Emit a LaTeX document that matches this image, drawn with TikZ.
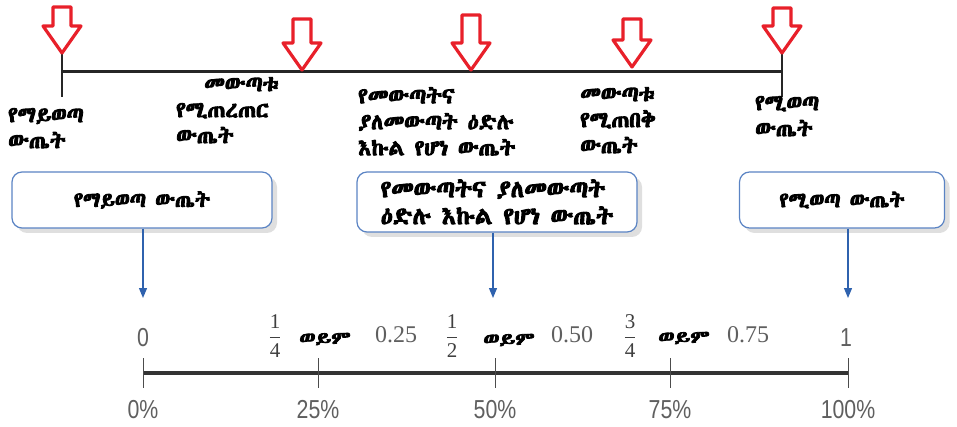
\documentclass[tikz,border=0pt]{standalone}
\usepackage{amsmath}
\usepackage{fontspec}
\usepackage{tikz}
\usetikzlibrary{arrows.meta, shadows}
\setmainfont{Liberation Serif}
\newfontfamily\pctfont[FakeStretch=0.82]{Liberation Sans}
\IfFontExistsTF{Abyssinica SIL}
  {\newfontfamily\ethfont[FakeBold=4]{Abyssinica SIL}
   \newfontfamily\ethwide[FakeBold=4.5, FakeStretch=1.35]{Abyssinica SIL}}
  {\IfFontExistsTF{FreeSerif}
    {\newfontfamily\ethfont[FakeBold=4]{FreeSerif}
     \newfontfamily\ethwide[FakeBold=4.5, FakeStretch=1.35]{FreeSerif}}
    {\newfontfamily\ethfont{DejaVu Sans}
     \newfontfamily\ethwide{DejaVu Sans}}}
\definecolor{arrred}{HTML}{E8202A}
\definecolor{boxblue}{HTML}{5B84C4}
\definecolor{pointblue}{HTML}{2F62AE}
\definecolor{greytxt}{HTML}{5F5F5F}
\newcommand{\partfrac}[2]{$\dfrac{\text{#1}}{\text{#2}}$}

\begin{document}
\begin{tikzpicture}[x=1pt, y=-1pt]
  \tikzset{
    hollow/.style={draw=arrred, line width=3.2pt, fill=white, line join=round},
    pics/drop/.style={code={\draw[hollow] (-9,0) -- (9,0) -- (9,{#1-27}) -- (19,{#1-27}) -- (0,#1) -- (-19,{#1-27}) -- (-9,{#1-27}) -- cycle;}},
    eth/.style={font=\ethfont\fontsize{22}{26}\selectfont, align=left, anchor=north west, inner sep=0pt},
    outbox/.style={draw=boxblue, line width=1.2pt, fill=white, rounded corners=10pt, align=left,
      font=\ethfont\fontsize{21}{27}\selectfont,
      drop shadow={opacity=0.25, shadow xshift=5pt, shadow yshift=-5pt}},
    point/.style={pointblue, line width=1.2pt, -{Triangle[length=10pt, width=8pt]}},
    num/.style={greytxt, font=\pctfont\fontsize{26}{26}\selectfont, inner sep=0pt},
    dec/.style={greytxt, font=\fontsize{24}{24}\selectfont, inner sep=0pt},
    frc/.style={black!75, font=\fontsize{21}{21}\selectfont, inner sep=0pt},
    orw/.style={font=\ethwide\fontsize{17}{17}\selectfont, inner sep=0pt},
    pct/.style={greytxt, font=\pctfont\fontsize{26}{26}\selectfont, inner sep=0pt}
  }
  \useasboundingbox (0,0) rectangle (957,427);

  \coordinate (s) at (62,72);
  \coordinate (e) at (782,72);
  \draw[line width=3pt, black!85] (s) -- (e);
  \draw[line width=2.5pt, black!85] (62,52) -- (62,97);
  \draw[line width=2.5pt, black!85] (782,52) -- (782,97);
  \pic (d1) at (62,7) {drop=46};
  \pic (d2) at (302,19) {drop=51};
  \pic (d3) at (471,15) {drop=55};
  \pic (d4) at (632,19) {drop=48};
  \pic (d5) at (782,8) {drop=45};

  \node[eth] (l1) at (8,108) {የማይወጣ\\ውጤት};
  \node[eth] (l2) at (176,77) {\hspace*{28pt}መውጣቱ\\የሚጠረጠር\\ውጤት};
  \node[eth] (l3) at (358,87) {የመውጣትና\\ያለመውጣት ዕድሉ\\እኩል የሆነ ውጤት};
  \node[eth] (l4) at (580,87) {መውጣቱ\\የሚጠበቅ\\ውጤት};
  \node[eth] (l5) at (755,96) {የሚወጣ\\ውጤት};

  \node[outbox, minimum width=260pt, minimum height=56pt] (b1) at (142,200) {የማይወጣ ውጤት};
  \node[outbox, minimum width=280pt, minimum height=60pt, font=\ethfont\fontsize{24}{27}\selectfont] (b2) at (497,202) {የመውጣትና ያለመውጣት\\ዕድሉ እኩል የሆነ ውጤት};
  \node[outbox, minimum width=205pt, minimum height=56pt] (b3) at (842,200) {የሚወጣ ውጤት};

  \coordinate (t1) at (143,298);
  \coordinate (t2) at (493,298);
  \coordinate (t3) at (848,298);
  \draw[point] (b1.south -| t1) -- (t1);
  \draw[point] (b2.south -| t2) -- (t2);
  \draw[point] (b3.south -| t3) -- (t3);

  \node[num] (z) at (143,338) {0};
  \node[frc] (f1) at (275,336) {\partfrac{1}{4}};
  \node[orw] (o1) at (325,339) {ወይም};
  \node[dec] (q1) at (396,335) {0.25};
  \node[frc] (f2) at (452,336) {\partfrac{1}{2}};
  \node[orw] (o2) at (509,340) {ወይም};
  \node[dec] (q2) at (572,335) {0.50};
  \node[frc] (f3) at (630,336) {\partfrac{3}{4}};
  \node[orw] (o3) at (684,338) {ወይም};
  \node[dec] (q3) at (748,335) {0.75};
  \node[num] (w) at (846,338) {1};

  \coordinate (n0) at (143,373);
  \coordinate (n4) at (848,373);
  \draw[line width=4pt, black!80] (n0) -- (n4);
  \foreach \x/\p in {143/0, 318/25, 495/50, 670/75, 848/100} {
    \draw[line width=0.8pt, black!70] (\x,358) -- (\x,388);
    \node[pct] (p\p) at (\x,410) {\p\%};
  }
\end{tikzpicture}
\end{document}
